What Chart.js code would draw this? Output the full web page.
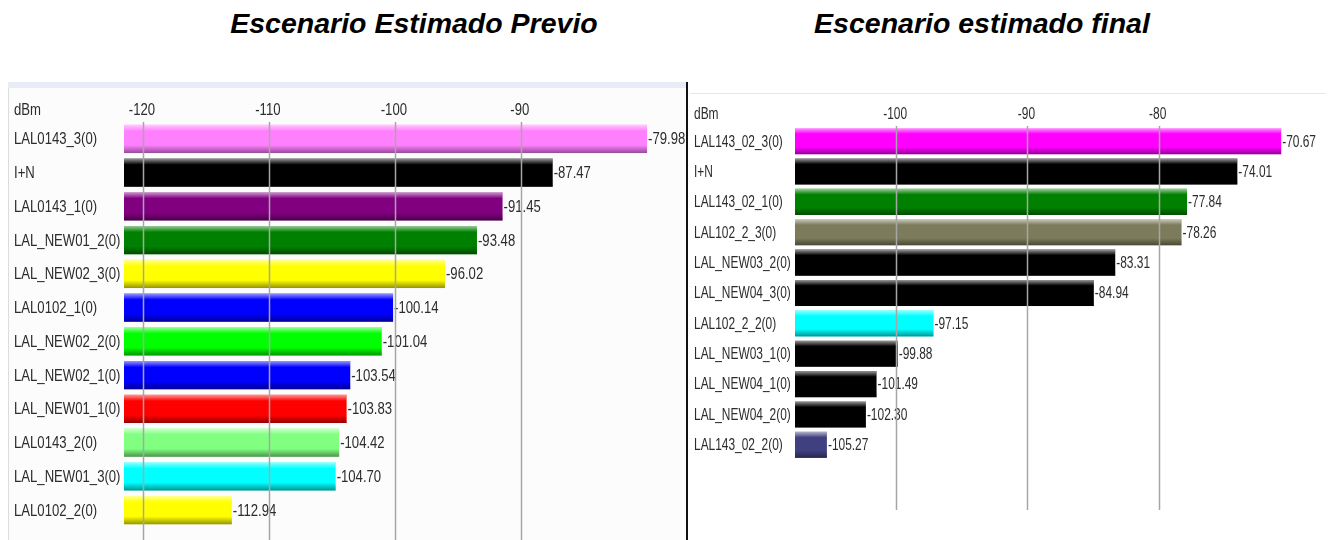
<!DOCTYPE html>
<html>
<head>
<meta charset="utf-8">
<title>Escenario estimado</title>
<script src="https://cdn.jsdelivr.net/npm/chart.js@4"></script>
<style>
  body { margin: 0; background: #fff; width: 1329px; height: 540px; position: relative; overflow: hidden; }
  .title { position: absolute; top: 7px; font: italic bold 28.5px "Liberation Sans", Arial, sans-serif; color: #000; white-space: nowrap; transform: translateX(-50%); }
  .box { position: absolute; }
  #leftBox { left: 9px; top: 88px; width: 677px; height: 452px; background: #fcfcfc; }
  #rightBox { left: 689px; top: 94px; width: 640px; height: 446px; }
  .band { position: absolute; left: 8px; top: 82px; width: 678px; height: 6px; background: #e7ecf6; }
  .edge { position: absolute; left: 8px; top: 88px; width: 1px; height: 452px; background: #dcdcdc; }
  .rline { position: absolute; left: 690px; top: 93px; width: 636px; height: 1px; background: #e2e8f3; }
  .divider { position: absolute; left: 686px; top: 82px; width: 2px; height: 458px; background: #111; }
</style>
</head>
<body>
<div class="title" style="left:414px">Escenario Estimado Previo</div>
<div class="title" style="left:982px">Escenario estimado final</div>
<div class="band"></div>
<div class="edge"></div>
<div class="rline"></div>
<div class="box" id="leftBox"><canvas id="leftChart" width="677" height="452"></canvas></div>
<div class="box" id="rightBox"><canvas id="rightChart" width="640" height="446"></canvas></div>
<div class="divider"></div>
<script>
// Previous scenario (dBm)
const prevLabels = ['LAL0143_3(0)', 'I+N', 'LAL0143_1(0)', 'LAL_NEW01_2(0)', 'LAL_NEW02_3(0)', 'LAL0102_1(0)',
    'LAL_NEW02_2(0)', 'LAL_NEW02_1(0)', 'LAL_NEW01_1(0)', 'LAL0143_2(0)', 'LAL_NEW01_3(0)', 'LAL0102_2(0)'];
const prevValues = [-79.98, -87.47, -91.45, -93.48, -96.02, -100.14, -101.04, -103.54, -103.83, -104.42, -104.70, -112.94];
const prevColors = ['#ff80ff', '#000000', '#800080', '#008000', '#ffff00', '#0000ff',
    '#00ff00', '#0000ff', '#ff0000', '#80ff80', '#00ffff', '#ffff00'];
const prevTicks = [-120, -110, -100, -90];

// Final scenario (dBm)
const finalLabels = ['LAL143_02_3(0)', 'I+N', 'LAL143_02_1(0)', 'LAL102_2_3(0)', 'LAL_NEW03_2(0)', 'LAL_NEW04_3(0)',
    'LAL102_2_2(0)', 'LAL_NEW03_1(0)', 'LAL_NEW04_1(0)', 'LAL_NEW04_2(0)', 'LAL143_02_2(0)'];
const finalValues = [-70.67, -74.01, -77.84, -78.26, -83.31, -84.94, -97.15, -99.88, -101.49, -102.30, -105.27];
const finalColors = ['#ff00ff', '#000000', '#008000', '#7c7c5c', '#000000', '#000000',
    '#00ffff', '#000000', '#000000', '#000000', '#404080'];
const finalTicks = [-100, -90, -80];

const FONT = '16px "Liberation Sans", Arial, sans-serif';
const TEXT = '#2c2c2c';

// condensed text: squeeze horizontally around the anchor point
function narrowText(ctx, text, x, y, sx, align) {
    ctx.save();
    ctx.translate(x, y);
    ctx.scale(sx, 1);
    ctx.textAlign = align;
    ctx.fillText(text, 0, 0);
    ctx.restore();
}

// grid lines over the bars, bar shading, axis text and value labels
const barDecor = {
    id: 'barDecor',
    afterDatasetsDraw(chart, args, o) {
        const { ctx, chartArea, scales: { x, y } } = chart;
        const meta = chart.getDatasetMeta(0);
        ctx.save();
        meta.data.forEach((bar) => {
            const p = bar.getProps(['x', 'y', 'base', 'height'], true);
            const top = p.y - p.height / 2;
            const g = ctx.createLinearGradient(0, top, 0, top + p.height);
            g.addColorStop(0, 'rgba(255,255,255,0.6)');
            g.addColorStop(0.22, 'rgba(255,255,255,0)');
            g.addColorStop(0.72, 'rgba(0,0,0,0)');
            g.addColorStop(1, 'rgba(0,0,0,0.42)');
            ctx.fillStyle = g;
            ctx.fillRect(p.base, top, p.x - p.base, p.height);
        });

        ctx.font = FONT;
        ctx.fillStyle = TEXT;
        ctx.textBaseline = 'middle';
        meta.data.forEach((bar, i) => {
            const v = chart.data.datasets[0].data[i];
            narrowText(ctx, v.toFixed(2), bar.x + 1, bar.y + 1, o.sx, 'left');
        });

        chart.data.labels.forEach((lab, i) => {
            narrowText(ctx, lab, y.left, y.getPixelForValue(i) + 1, o.sx, 'left');
        });

        const tickY = chartArea.top - 11;
        o.ticks.forEach((v) => {
            narrowText(ctx, String(v), x.getPixelForValue(v) - 1, tickY, o.sx, 'center');
        });
        narrowText(ctx, 'dBm', y.left, tickY, o.sx, 'left');

        ctx.strokeStyle = '#a6a6a6';
        ctx.lineWidth = 1.5;
        o.ticks.forEach((v) => {
            const px = Math.round(x.getPixelForValue(v)) + 0.5;
            ctx.beginPath();
            ctx.moveTo(px, chartArea.top);
            ctx.lineTo(px, o.gridBottom);
            ctx.stroke();
        });
        ctx.restore();
    }
};

function makeChart(id, labels, values, colors, ticks, opts) {
    return new Chart(document.getElementById(id), {
        type: 'bar',
        data: {
            labels: labels,
            datasets: [{
                data: values,
                backgroundColor: colors,
                base: opts.min,
                barPercentage: opts.barPct,
                categoryPercentage: 1
            }]
        },
        options: {
            indexAxis: 'y',
            responsive: false,
            animation: false,
            layout: { padding: { left: 5, top: 0, right: opts.padRight, bottom: opts.padBottom } },
            plugins: {
                legend: { display: false },
                tooltip: { enabled: false },
                barDecor: { ticks: ticks, gridBottom: opts.gridBottom, sx: opts.sx }
            },
            scales: {
                x: {
                    position: 'top',
                    min: opts.min,
                    max: opts.max,
                    afterBuildTicks: (scale) => { scale.ticks = ticks.map(v => ({ value: v })); },
                    afterFit: (scale) => { scale.height = opts.axisHeight; },
                    grid: { display: false, drawTicks: false },
                    border: { display: false },
                    ticks: { display: false }
                },
                y: {
                    afterFit: (scale) => { scale.width = opts.labelWidth; },
                    grid: { display: false, drawTicks: false },
                    border: { display: false },
                    ticks: { display: false }
                }
            }
        },
        plugins: [barDecor]
    });
}

makeChart('leftChart', prevLabels, prevValues, prevColors, prevTicks, {
    min: -121.5, max: -78, padRight: 14, padBottom: 13, axisHeight: 34,
    labelWidth: 110, gridBottom: 452, sx: 0.82, barPct: 0.84
});

makeChart('rightChart', finalLabels, finalValues, finalColors, finalTicks, {
    min: -107.7, max: -70, padRight: 39, padBottom: 80, axisHeight: 32,
    labelWidth: 101, gridBottom: 416, sx: 0.745, barPct: 0.86
});
</script>
</body>
</html>
